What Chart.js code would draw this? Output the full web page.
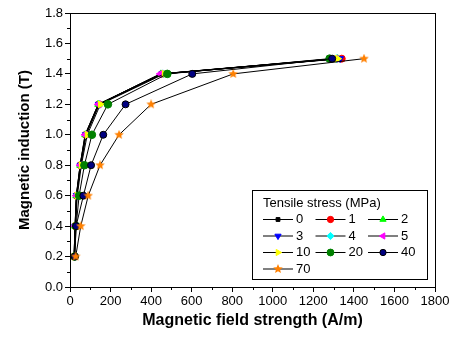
<!DOCTYPE html>
<html>
<head>
<meta charset="utf-8">
<script src="https://cdn.jsdelivr.net/npm/chart.js@4/dist/chart.umd.min.js"></script>
<style>
  html, body { margin: 0; padding: 0; background: #fff; }
  #wrap { width: 456px; height: 340px; }
</style>
</head>
<body>
<div id="wrap"><canvas id="grafico" width="456" height="340"></canvas></div>
<script>
// -------------------------
// Data
// -------------------------
const induction = [0.2, 0.4, 0.6, 0.8, 1.0, 1.2, 1.4, 1.5];
const stressLabels = ["0", "1", "2", "3", "4", "5", "10", "20", "40", "70"];

const field0  = [20, 25, 32, 50, 76, 140, 450, 1300];
const field1  = [21, 26, 33, 52, 78, 143, 455, 1340];
const field2  = [20, 25, 31, 50, 75, 139, 448, 1320];
const field3  = [21, 26, 33, 52, 78, 142, 455, 1332];
const field4  = [21, 26, 33, 53, 79, 145, 458, 1315];
const field5  = [20, 25, 31, 50, 74, 140, 445, 1310];
const field10 = [22, 27, 36, 56, 85, 150, 465, 1320];
const field20 = [23, 30, 45, 71, 108, 187, 480, 1280];
const field40 = [24, 30, 66, 104, 164, 274, 603, 1293];
const field70 = [28, 53, 90, 148, 242, 400, 805, 1450];

const xTicks = [0, 200, 400, 600, 800, 1000, 1200, 1400, 1600, 1800];
const yTicks = [0.0, 0.2, 0.4, 0.6, 0.8, 1.0, 1.2, 1.4, 1.6, 1.8];

const allFields = [field0, field1, field2, field3, field4, field5, field10, field20, field40, field70];

// -------------------------
// Marker styles
// -------------------------
function makeStar(color, size) {
  const c = document.createElement("canvas");
  c.width = size; c.height = size;
  const g = c.getContext("2d");
  const cx = size / 2, cy = size / 2, R = size / 2, r = R * 0.45;
  g.beginPath();
  for (let i = 0; i < 10; i++) {
    const ang = -Math.PI / 2 + i * Math.PI / 5;
    const rr = i % 2 === 0 ? R : r;
    g.lineTo(cx + rr * Math.cos(ang), cy + rr * Math.sin(ang));
  }
  g.closePath();
  g.fillStyle = color;
  g.fill();
  return c;
}

const estilos = [
  { color: "#000000", style: "rect",     rot: 0,   r: 3 },
  { color: "#FF0000", style: "circle",   rot: 0,   r: 3.5 },
  { color: "#00FF00", style: "triangle", rot: 0,   r: 4 },
  { color: "#0000FF", style: "triangle", rot: 180, r: 4 },
  { color: "#00FFFF", style: "rectRot",  rot: 0,   r: 4 },
  { color: "#FF00FF", style: "triangle", rot: -90, r: 4 },
  { color: "#FFFF00", style: "triangle", rot: 90,  r: 4 },
  { color: "#008000", style: "circle",   rot: 0,   r: 3.8 },
  { color: "#000080", style: "circle",   rot: 0,   r: 3.5 },
  { color: "#FF8000", style: makeStar("#FF8000", 10), rot: 0, r: 5 }
];

const datasets = allFields.map((campo, i) => ({
  label: stressLabels[i],
  data: campo.map((x, k) => ({ x: x, y: induction[k] })),
  borderColor: "#000000",
  borderWidth: 1,
  backgroundColor: estilos[i].color,
  pointBackgroundColor: estilos[i].color,
  pointBorderColor: i === 8 ? "#000000" : estilos[i].color,
  pointBorderWidth: 1,
  pointStyle: estilos[i].style,
  pointRotation: estilos[i].rot,
  pointRadius: estilos[i].r,
  pointHoverRadius: estilos[i].r,
  tension: 0,
  order: -i
}));

// -------------------------
// Plugins: box, minor ticks, legend
// -------------------------
const boxPlugin = {
  id: "box",
  afterDraw(chart) {
    const { ctx, chartArea: a, scales } = chart;
    ctx.save();
    ctx.strokeStyle = "#000";
    ctx.lineWidth = 1;
    ctx.strokeRect(Math.round(a.left) + 0.5, Math.round(a.top) + 0.5,
      Math.round(a.right - a.left), Math.round(a.bottom - a.top));

    // minor ticks
    ctx.beginPath();
    for (let v = 100; v < 1800; v += 200) {
      const px = Math.round(scales.x.getPixelForValue(v)) + 0.5;
      ctx.moveTo(px, a.bottom);
      ctx.lineTo(px, a.bottom + 3);
    }
    for (let k = 1; k < 18; k += 2) {
      const py = Math.round(scales.y.getPixelForValue(k / 10)) + 0.5;
      ctx.moveTo(a.left, py);
      ctx.lineTo(a.left - 3, py);
    }
    ctx.stroke();
    ctx.restore();
  }
};

const legendPlugin = {
  id: "legendaBox",
  afterDraw(chart) {
    const ctx = chart.ctx;
    const bx = 252, by = 190, bw = 175, bh = 89;
    ctx.save();
    ctx.fillStyle = "#fff";
    ctx.fillRect(bx, by, bw, bh);
    ctx.strokeStyle = "#000";
    ctx.lineWidth = 1;
    ctx.strokeRect(bx + 0.5, by + 0.5, bw, bh);

    ctx.font = "13px 'Liberation Sans', Arial, sans-serif";
    ctx.fillStyle = "#000";
    ctx.textBaseline = "middle";
    ctx.fillText("Tensile stress (MPa)", 263, 203);

    const colX = [263, 315.5, 368];
    const rowY = [219.5, 236, 252.5, 269];
    chart.data.datasets.forEach((ds, i) => {
      const x0 = colX[i % 3];
      const y0 = rowY[Math.floor(i / 3)];
      ctx.strokeStyle = "#000";
      ctx.lineWidth = 1;
      ctx.beginPath();
      ctx.moveTo(x0, y0);
      ctx.lineTo(x0 + 30, y0);
      ctx.stroke();
      ctx.fillStyle = ds.pointBackgroundColor;
      ctx.strokeStyle = ds.pointBorderColor;
      Chart.helpers.drawPoint(ctx, {
        pointStyle: ds.pointStyle,
        rotation: ds.pointRotation,
        radius: ds.pointRadius * 0.9,
        borderWidth: 1
      }, x0 + 15, y0);
      ctx.fillStyle = "#000";
      ctx.fillText(ds.label, x0 + 33, y0);
    });
    ctx.restore();
  }
};

// -------------------------
// Chart
// -------------------------
const fonteTick = { family: "'Liberation Sans', Arial, sans-serif", size: 13 };
const fonteTitulo = { family: "'Liberation Sans', Arial, sans-serif", size: 16, weight: "bold" };
const fonteTituloY = { family: "'Liberation Sans', Arial, sans-serif", size: 15, weight: "bold" };

new Chart(document.getElementById("grafico").getContext("2d"), {
  type: "line",
  data: { datasets: datasets },
  options: {
    responsive: false,
    animation: false,
    devicePixelRatio: 1,
    layout: { padding: { top: 13, right: 21, left: 0, bottom: 0 } },
    plugins: {
      legend: { display: false },
      tooltip: { enabled: false }
    },
    scales: {
      x: {
        type: "linear",
        min: 0,
        max: 1800,
        afterFit(scale) { scale.height = 53; },
        afterBuildTicks(scale) { scale.ticks = xTicks.map(v => ({ value: v })); },
        ticks: { color: "#000", font: fonteTick, padding: 2, maxRotation: 0, callback: v => String(v) },
        grid: { drawOnChartArea: false, tickLength: 5, tickColor: "#000" },
        border: { color: "#000", width: 1 },
        title: { display: true, text: "Magnetic field strength (A/m)", color: "#000", font: fonteTitulo, padding: { top: 0, bottom: 10 } }
      },
      y: {
        type: "linear",
        min: 0,
        max: 1.8,
        afterFit(scale) { scale.width = 70; },
        afterBuildTicks(scale) { scale.ticks = yTicks.map(v => ({ value: v })); },
        ticks: { color: "#000", font: fonteTick, padding: 2, callback: v => Number(v).toFixed(1) },
        grid: { drawOnChartArea: false, tickLength: 5, tickColor: "#000" },
        border: { color: "#000", width: 1 },
        title: { display: true, text: "Magnetic induction (T)", color: "#000", font: fonteTituloY, padding: { top: 16, bottom: 0 } }
      }
    }
  },
  plugins: [boxPlugin, legendPlugin]
});
</script>
</body>
</html>
